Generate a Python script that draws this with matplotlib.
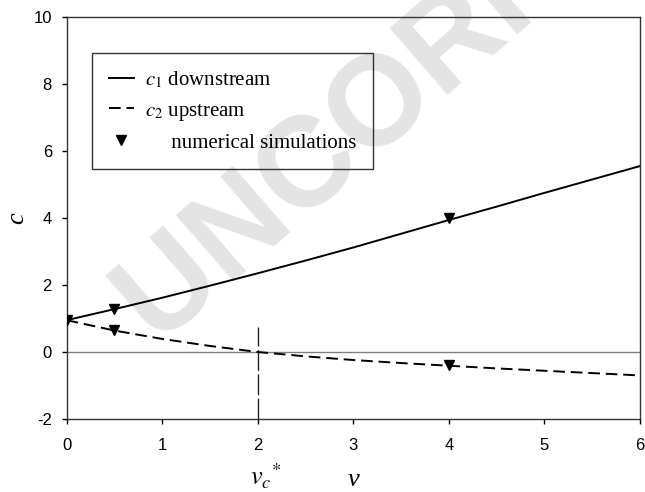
import numpy as np
import matplotlib
matplotlib.use("Agg")
import matplotlib.pyplot as plt
from matplotlib.legend_handler import HandlerLine2D

# ── Data ──────────────────────────────────────────────────────────────────────
v = [0.0, 0.5, 1.0, 1.5, 2.0, 2.5, 3.0, 3.5, 4.0, 4.5, 5.0, 5.5, 6.0]
c1_down = [0.95, 1.28, 1.62, 1.98, 2.35, 2.73, 3.12, 3.53, 3.94, 4.34, 4.75, 5.15, 5.55]
c2_up = [0.95, 0.64, 0.39, 0.18, 0.0, -0.13, -0.24, -0.33, -0.41, -0.49, -0.56, -0.63, -0.70]

sim_v = [0.0, 0.5, 4.0, 0.5, 4.0]
sim_c = [0.95, 1.27, 4.0, 0.65, -0.40]

vc_star = 2.0
vc_line_top = 0.75

xticks = [0, 1, 2, 3, 4, 5, 6]
yticks = [-2, 0, 2, 4, 6, 8, 10]

# ── Style ─────────────────────────────────────────────────────────────────────
plt.rcParams.update({
    "font.family": "Liberation Sans",
    "font.size": 12,
    "mathtext.fontset": "stix",
    "axes.unicode_minus": False,
})


class EndMarkerHandler(HandlerLine2D):
    # put the legend marker at the right end of the handle
    def get_xdata(self, legend, xdescent, ydescent, width, height, fontsize):
        xdata, _ = super().get_xdata(legend, xdescent, ydescent, width, height, fontsize)
        return xdata, [-xdescent + width]


fig = plt.figure(figsize=(6.45, 4.92), dpi=100)
ax = fig.add_axes([0.1034, 0.1484, 0.8888, 0.817])
ax.set_facecolor("none")

# faint watermark, drawn underneath the axes
fig.text(0.212, 0.345, "UNCORRECTED PROOF", fontsize=92, fontweight="bold",
         color="#e4e4e4", rotation=41, rotation_mode="anchor",
         ha="left", va="center", zorder=-1)

ax.axhline(0, color="#808080", linewidth=1.0, zorder=1)
ax.vlines(vc_star, -2, vc_line_top, color="#222222", linewidth=1.0,
          linestyle=(0, (15, 2.5)), zorder=1)

l1, = ax.plot(v, c1_down, color="black", linewidth=1.4, zorder=3,
              label=r"$c_1$ downstream")
l2, = ax.plot(v, c2_up, color="black", linewidth=1.4, linestyle=(0, (6, 3)),
              zorder=3, label=r"$c_2$ upstream")
l3, = ax.plot(sim_v, sim_c, linestyle="none", marker="v", markersize=7,
              color="black", zorder=4, label="     numerical simulations")

ax.set_xlim(0, 6)
ax.set_ylim(-2, 10)
ax.set_xticks(xticks)
ax.set_yticks(yticks)
ax.tick_params(axis="both", direction="out", length=3.6, width=1.0,
               colors="black", labelsize=12)
ax.tick_params(axis="x", pad=10)
ax.tick_params(axis="y", pad=7)
for s in ax.spines.values():
    s.set_color("#333333")
    s.set_linewidth(1.0)

ax.set_ylabel("c", fontfamily="Liberation Serif", fontstyle="italic", fontsize=19)
ax.yaxis.set_label_coords(-0.068, 0.5)
ax.set_xlabel("v", fontfamily="Liberation Serif", fontstyle="italic", fontsize=19)
ax.xaxis.set_label_coords(0.5, -0.125)
ax.text(vc_star + 0.08, -0.165, r"$v_c{}^{*}$", fontsize=19, ha="center",
        va="baseline", transform=ax.get_xaxis_transform())

leg = ax.legend(handles=[l1, l2, l3], loc="upper left",
                bbox_to_anchor=(0.044, 0.91), borderaxespad=0,
                prop={"family": "Liberation Serif", "size": 15},
                handlelength=1.2, handletextpad=0.55, labelspacing=0.5,
                borderpad=0.8, fancybox=False, facecolor="none",
                framealpha=1, edgecolor="#333333",
                handler_map={l3: EndMarkerHandler(numpoints=1)})
leg.get_frame().set_linewidth(1.0)

plt.savefig("out.png", dpi=100)
